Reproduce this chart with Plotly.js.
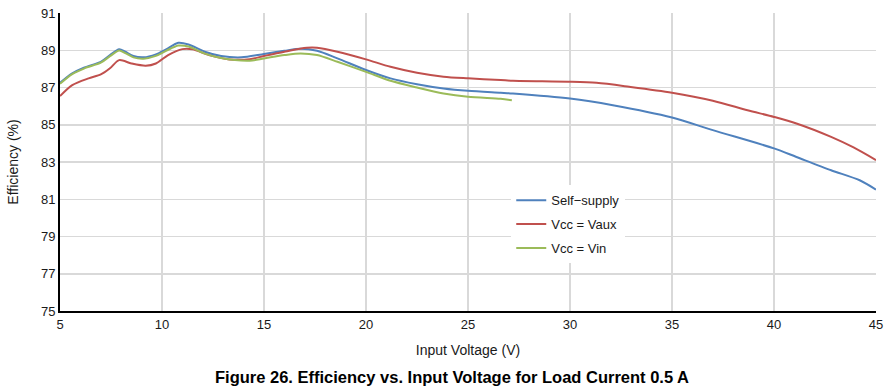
<!DOCTYPE html>
<html>
<head>
<meta charset="utf-8">
<script src="https://cdn.plot.ly/plotly-3.0.1.min.js"></script>
<style>html,body{margin:0;padding:0;background:#fff;}#chart{width:888px;height:390px;}</style>
</head>
<body>
<div id="chart"></div>
<script>
const seriesNames = ["Self\u2212supply", "Vcc = Vaux", "Vcc = Vin"];

const xSelf = [5, 5.6, 6.2, 7.0, 7.45, 7.9, 8.2, 8.6, 9.1, 9.7, 10.2, 10.8, 11.3, 12.1, 12.9, 13.9, 15, 16, 16.8, 17.6, 18.6, 20, 21.2, 22.5, 23.8, 25, 26.6, 27.2, 30, 32.1, 35, 37, 40, 41.1, 42.8, 44.2, 45];
const ySelf = [87.25, 87.76, 88.08, 88.38, 88.74, 89.06, 88.92, 88.69, 88.62, 88.78, 89.05, 89.4, 89.31, 88.92, 88.69, 88.62, 88.8, 88.97, 89.08, 88.97, 88.56, 87.94, 87.49, 87.18, 86.95, 86.82, 86.72, 86.68, 86.41, 86.05, 85.39, 84.71, 83.73, 83.27, 82.56, 82.02, 81.52];

const xVaux = [5, 5.6, 6.4, 7.0, 7.45, 7.9, 8.5, 9.2, 9.7, 10.3, 11.0, 11.5, 12.3, 13.3, 14.3, 15, 16, 17.1, 17.6, 18.6, 20, 21.2, 22.5, 23.8, 25, 26.6, 27.2, 30, 31.3, 32.9, 35, 37, 38.7, 40, 41.1, 42.8, 43.9, 45];
const yVaux = [86.54, 87.13, 87.49, 87.7, 88.03, 88.47, 88.29, 88.17, 88.29, 88.74, 89.06, 89.05, 88.74, 88.51, 88.52, 88.69, 88.92, 89.13, 89.13, 88.92, 88.51, 88.11, 87.79, 87.58, 87.49, 87.4, 87.36, 87.31, 87.25, 87.04, 86.72, 86.29, 85.78, 85.42, 85.07, 84.35, 83.78, 83.1];

const xVin = [5, 5.6, 6.2, 7.0, 7.45, 7.9, 8.2, 8.6, 9.1, 9.7, 10.2, 10.8, 11.3, 12.1, 12.9, 14.3, 15, 16, 16.8, 17.6, 18.6, 20, 21.2, 22.5, 23.8, 25, 26.6, 27.15];
const yVin = [87.2, 87.72, 88.03, 88.33, 88.68, 88.98, 88.85, 88.62, 88.55, 88.7, 88.97, 89.25, 89.2, 88.82, 88.58, 88.44, 88.56, 88.74, 88.83, 88.74, 88.38, 87.84, 87.36, 87.0, 86.68, 86.5, 86.39, 86.32];

const xTicks = [5, 10, 15, 20, 25, 30, 35, 40, 45];
const yTicks = [75, 77, 79, 81, 83, 85, 87, 89, 91];

const colors = ["#4F81BD", "#C0504D", "#9BBB59"];
const xs = [xSelf, xVaux, xVin];
const ys = [ySelf, yVaux, yVin];

const traces = seriesNames.map((n, i) => ({
  x: xs[i], y: ys[i], name: n, type: "scatter", mode: "lines", legendgroup: "g" + i,
  line: {color: colors[i], width: 2, shape: "spline", smoothing: 0.8}
}));

const font = "Liberation Sans, Arial, sans-serif";
const layout = {
  width: 888, height: 390,
  margin: {l: 60, r: 12, t: 13, b: 79},
  paper_bgcolor: "#fff", plot_bgcolor: "#fff",
  font: {family: font, size: 13, color: "#1a1a1a"},
  showlegend: true,
  legend: {x: 0.553, y: 0.422, xanchor: "left", yanchor: "top", bgcolor: "rgba(255,255,255,1)",
           font: {family: font, size: 13, color: "#1a1a1a"}, tracegroupgap: 4, itemwidth: 30,
           traceorder: "grouped"},
  xaxis: {
    range: [5, 45], tickvals: xTicks, ticktext: xTicks.map(String),
    showgrid: true, gridcolor: "#d9d9d9", gridwidth: 1.5,
    showline: true, linecolor: "#000", linewidth: 2, zeroline: false,
    ticks: "", tickfont: {size: 13},
    title: {text: "Input Voltage (V)", font: {size: 14}, standoff: 15}
  },
  yaxis: {
    range: [75, 91], tickvals: yTicks, ticktext: yTicks.map(String),
    showgrid: true, gridcolor: "#d9d9d9", gridwidth: 1.5,
    showline: true, linecolor: "#000", linewidth: 2, zeroline: false,
    ticks: "", tickfont: {size: 13},
    title: {text: "Efficiency (%)", font: {size: 14}, standoff: 19}
  },
  annotations: [{
    text: "<b>Figure 26. Efficiency vs. Input Voltage for Load Current 0.5 A</b>",
    xref: "paper", yref: "paper", x: 0.48, y: -0.222, xanchor: "center", yanchor: "middle",
    showarrow: false, font: {family: "Liberation Sans Narrow, Arial Narrow, Liberation Sans, sans-serif", size: 16.5, color: "#000"}
  }]
};

Plotly.newPlot("chart", traces, layout, {displayModeBar: false, staticPlot: true});
</script>
</body>
</html>
